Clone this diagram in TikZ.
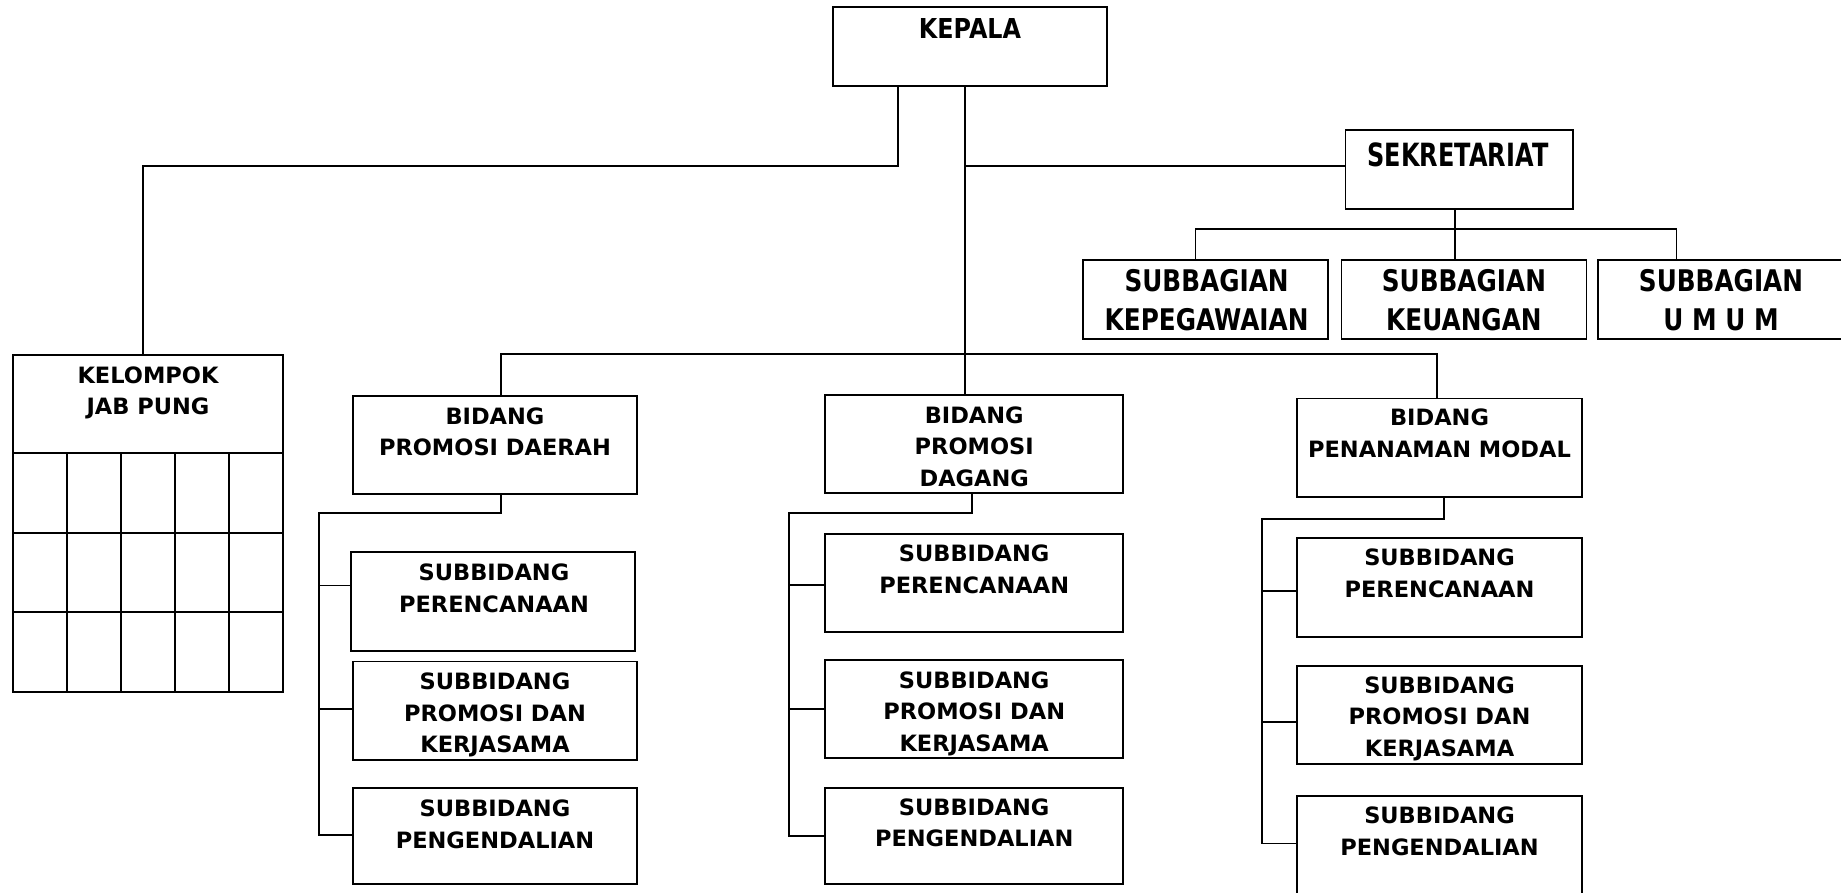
\documentclass[tikz,border=0pt]{standalone}
\usepackage{fontspec}
\setmainfont{DejaVu Sans}
\newfontfamily\kepfont[FakeStretch=0.87]{DejaVu Sans}
\newfontfamily\sekfont[FakeStretch=0.75]{DejaVu Sans}
\newfontfamily\sbgfont[FakeStretch=0.83]{DejaVu Sans}
\newcommand\obox[5]{\node[orgbox, minimum width={(#4-#2)*1pt}, minimum height={(#5-#3)*1pt}] (#1) at ({(#2+#4)/2},{(#3+#5)/2}) {};}
\begin{document}
\begin{tikzpicture}[x=1pt,y=-1pt,
  orgbox/.style={draw, line width=1.8pt, rectangle, inner sep=0pt, outer sep=0pt},
  txt/.style={font=\bfseries\fontsize{22.5}{31.5}\selectfont, align=center, inner sep=0pt, text depth=0pt},
  bigtxt/.style={font=\kepfont\bfseries\fontsize{27.4}{34}\selectfont, align=center, inner sep=0pt, text depth=0pt},
  sektxt/.style={font=\sekfont\bfseries\fontsize{32}{37}\selectfont, align=center, inner sep=0pt, text depth=0pt},
  subtxt/.style={font=\sbgfont\bfseries\fontsize{29.8}{38.4}\selectfont, align=center, inner sep=0pt, text depth=0pt},
  conn/.style={line width=1.8pt}]
\useasboundingbox (0,0) rectangle (1841,892);
% boxes
\obox{kepala}{833}{7}{1107}{86}
\obox{sek}{1345.4}{130}{1573}{209.3}
\obox{sb1}{1083}{260}{1328}{339}
\obox{sb2}{1341.4}{260}{1586.4}{339}
\obox{sb3}{1597.9}{260}{1845}{339}
\obox{kel}{13}{355}{283}{692}
\obox{bd1}{353}{395.6}{637}{494.2}
\obox{bd2}{825}{394.6}{1123.3}{493.2}
\obox{bd3}{1297.3}{398.5}{1581.7}{496.7}
\obox{s11}{351}{552.3}{635}{650.6}
\obox{s12}{353}{661.5}{637}{759.7}
\obox{s13}{353}{787.9}{637}{884}
\obox{s21}{825}{533.7}{1123.3}{632.3}
\obox{s22}{825}{659.7}{1123.3}{758.3}
\obox{s23}{825}{787.9}{1123.3}{884}
\obox{s31}{1297.3}{538.2}{1581.7}{636.8}
\obox{s32}{1297.3}{665.7}{1581.7}{764.3}
\obox{s33}{1297.3}{796}{1581.7}{905}
% grid of kelompok
\draw[conn] (13,453) -- (283,453);
\draw[conn] (13,533) -- (283,533);
\draw[conn] (13,612) -- (283,612);
\foreach \gx in {67,121,175,229} {\draw[conn] (\gx,453) -- (\gx,692);}
% texts
\node[bigtxt] (kepalat) at (970,28.3) {KEPALA};
\node[sektxt] (sekt) at (1458,155) {SEKRETARIAT};
\node[subtxt] (sb1t) at (1206.6,300) {SUBBAGIAN\\KEPEGAWAIAN};
\node[subtxt] (sb2t) at (1463.9,300) {SUBBAGIAN\\KEUANGAN};
\node[subtxt] (sb3t) at (1721,300) {SUBBAGIAN\\U M U M};
\node[txt] (kelt) at (148,390.8) {KELOMPOK\\JAB PUNG};
\node[txt] (bd1t) at (495,431.5) {BIDANG\\PROMOSI DAERAH};
\node[txt] (bd2t) at (974.2,446.5) {BIDANG\\PROMOSI\\DAGANG};
\node[txt] (bd3t) at (1439.5,433) {BIDANG\\PENANAMAN MODAL};
\node[txt] (s11t) at (494,588.2) {SUBBIDANG\\PERENCANAAN};
\node[txt] (s12t) at (495,712.9) {SUBBIDANG\\PROMOSI DAN\\KERJASAMA};
\node[txt] (s13t) at (495,824.2) {SUBBIDANG\\PENGENDALIAN};
\node[txt] (s21t) at (974.2,568.9) {SUBBIDANG\\PERENCANAAN};
\node[txt] (s22t) at (974.2,711.5) {SUBBIDANG\\PROMOSI DAN\\KERJASAMA};
\node[txt] (s23t) at (974.2,822.4) {SUBBIDANG\\PENGENDALIAN};
\node[txt] (s31t) at (1439.5,573.2) {SUBBIDANG\\PERENCANAAN};
\node[txt] (s32t) at (1439.5,716.5) {SUBBIDANG\\PROMOSI DAN\\KERJASAMA};
\node[txt] (s33t) at (1439.5,831.2) {SUBBIDANG\\PENGENDALIAN};
% junction coordinates
\coordinate (kl) at (898,166);
\coordinate (kj) at (143,166);
\coordinate (tr) at (965,354);
\coordinate (js) at (965,166);
\coordinate (sj) at (1455,229.3);
\coordinate (sa) at (1195.5,229.3);
\coordinate (sc) at (1676.5,229.3);
\coordinate (ba) at (501,354);
\coordinate (bc) at (1437.3,354);
\coordinate (t1) at (501,513.2);
\coordinate (v1) at (319,513.2);
\coordinate (c11) at (319,585.4);
\coordinate (c12) at (319,709);
\coordinate (c13) at (319,834.7);
\coordinate (t2) at (971.7,513.2);
\coordinate (v2) at (789,513.2);
\coordinate (c21) at (789,584.7);
\coordinate (c22) at (789,709);
\coordinate (c23) at (789,835.8);
\coordinate (t3) at (1444,518.9);
\coordinate (v3) at (1261.7,518.9);
\coordinate (c31) at (1261.7,591);
\coordinate (c32) at (1261.7,722);
\coordinate (c33) at (1261.7,843.5);
% connectors
\draw[conn] (kepala.south -| kl) -- (kl) -- (kj) -- (kel.north -| kj);
\draw[conn] (kepala.south -| tr) -- (bd2.north -| tr);
\draw[conn] (js) -- (sek.west |- js);
\draw[conn] (sek.south -| sj) -- (sb2.north -| sj);
\draw[conn] (sb1.north -| sa) -- (sa) -- (sc) -- (sb3.north -| sc);
\draw[conn] (bd1.north -| ba) -- (ba) -- (bc) -- (bd3.north -| bc);
\draw[conn] (bd1.south -| t1) -- (t1) -- (v1) -- (c13) -- (s13.west |- c13);
\draw[conn] (c11) -- (s11.west |- c11);
\draw[conn] (c12) -- (s12.west |- c12);
\draw[conn] (bd2.south -| t2) -- (t2) -- (v2) -- (c23) -- (s23.west |- c23);
\draw[conn] (c21) -- (s21.west |- c21);
\draw[conn] (c22) -- (s22.west |- c22);
\draw[conn] (bd3.south -| t3) -- (t3) -- (v3) -- (c33) -- (s33.west |- c33);
\draw[conn] (c31) -- (s31.west |- c31);
\draw[conn] (c32) -- (s32.west |- c32);
\end{tikzpicture}
\end{document}
